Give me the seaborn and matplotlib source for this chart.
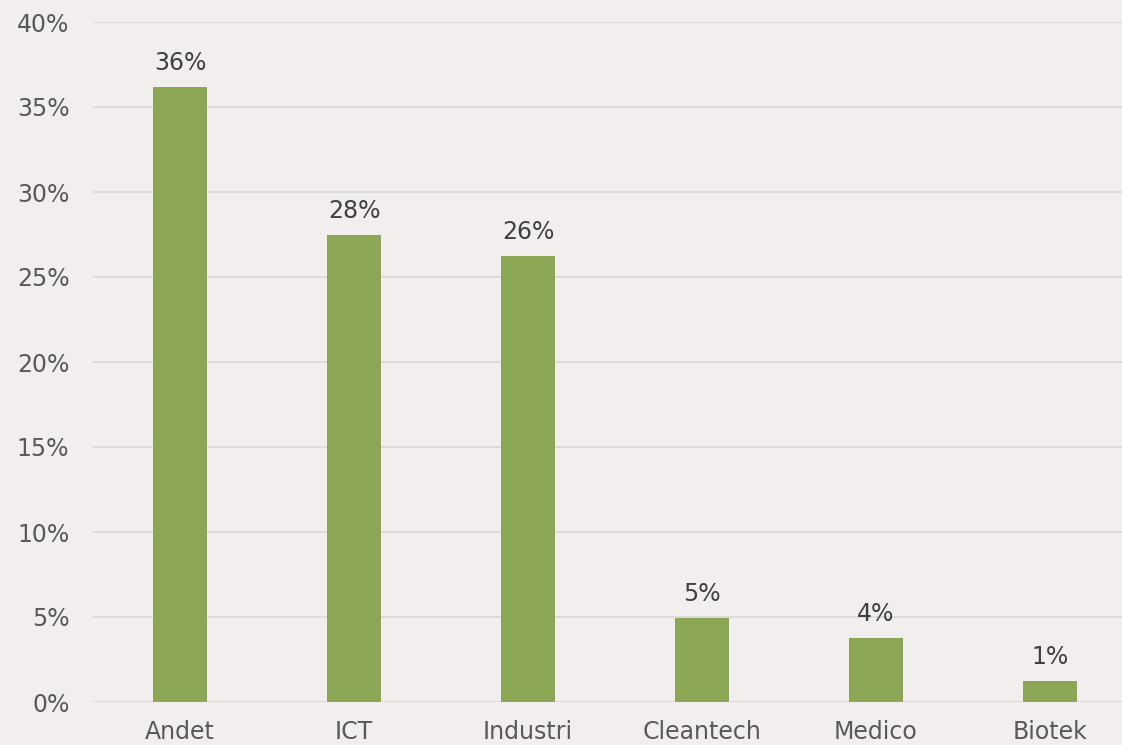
import numpy as np
import pandas as pd
import seaborn as sns
import matplotlib.pyplot as plt
from matplotlib.ticker import MultipleLocator, FuncFormatter

categories = ['Andet', 'ICT', 'Industri', 'Cleantech', 'Medico', 'Biotek']
shares = [36.2, 27.5, 26.25, 4.95, 3.75, 1.25]

df = pd.DataFrame({'Sektor': categories, 'Andel': shares})

bg = '#F1EEED'
sns.set_style('white')
plt.rcParams['font.family'] = ['DejaVu Sans']

fig = plt.figure(figsize=(11.22, 7.45), dpi=100, facecolor=bg)
# plot area runs slightly past the right edge of the image
ax = fig.add_axes([93 / 1122, 1 - 702 / 745, 1044 / 1122, 680 / 745])
ax.set_facecolor(bg)

sns.barplot(data=df, x='Sektor', y='Andel', color='#8BA755',
            saturation=1, width=0.31, linewidth=0, ax=ax, zorder=3)

# data labels
for i, v in enumerate(shares):
    ax.text(i, v + 0.7, f'{round(v):.0f}%', ha='center', va='bottom',
            fontsize=17, color='#404040')

ax.set_ylim(0, 40)
ax.set_xlim(-0.5, len(categories) - 0.5)
ax.yaxis.set_major_locator(MultipleLocator(5))
ax.yaxis.set_major_formatter(FuncFormatter(lambda y, _: f'{y:.0f}%'))
ax.grid(axis='y', color='#D9D9D9', linewidth=1.3, zorder=0)
ax.set_axisbelow(True)
for s in ax.spines.values():
    s.set_visible(False)
ax.tick_params(axis='both', length=0, labelsize=17, colors='#595959')
ax.tick_params(axis='x', pad=13)
ax.tick_params(axis='y', pad=17)
ax.set_xlabel('')
ax.set_ylabel('')

fig.savefig('out.png', dpi=100, facecolor=bg)
